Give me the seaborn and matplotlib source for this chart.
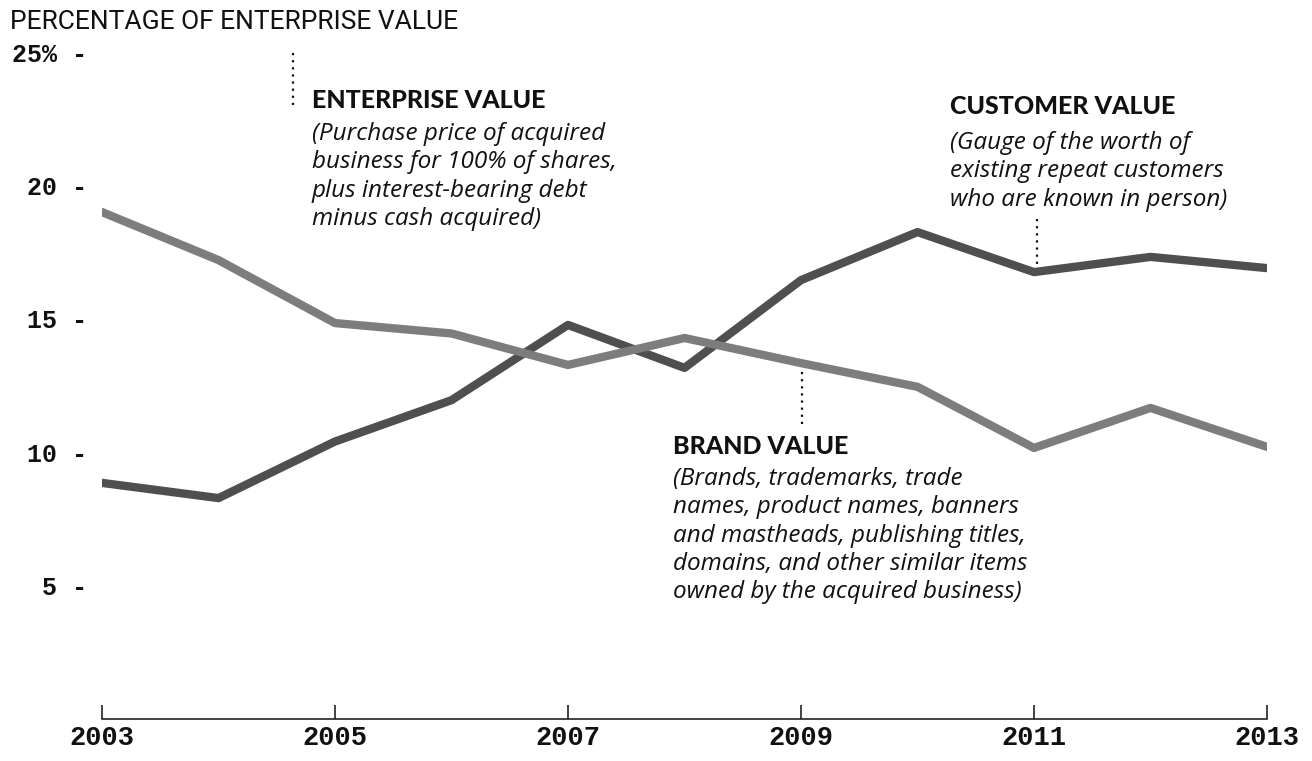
import matplotlib
matplotlib.use("Agg")
import matplotlib.pyplot as plt
import seaborn as sns
import pandas as pd

years = [2003, 2004, 2005, 2006, 2007, 2008, 2009, 2010, 2011, 2012, 2013]
customer_value = [8.85, 8.28, 10.4, 11.95, 14.77, 13.16, 16.45, 18.25, 16.75, 17.32, 16.9]
brand_value = [19.0, 17.2, 14.84, 14.45, 13.27, 14.28, 13.34, 12.45, 10.16, 11.66, 10.2]
y_ticks = [5, 10, 15, 20, 25]
y_tick_labels = ["5 -", "10 -", "15 -", "20 -", "25% -"]
x_ticks = [2003, 2005, 2007, 2009, 2011, 2013]

enterprise_lines = ["(Purchase price of acquired", "business for 100% of shares,",
                    "plus interest-bearing debt", "minus cash acquired)"]
customer_lines = ["(Gauge of the worth of", "existing repeat customers",
                  "who are known in person)"]
brand_lines = ["(Brands, trademarks, trade", "names, product names, banners",
               "and mastheads, publishing titles,", "domains, and other similar items",
               "owned by the acquired business)"]

df = pd.DataFrame({
    "year": years * 2,
    "value": customer_value + brand_value,
    "series": ["Customer value"] * len(years) + ["Brand value"] * len(years),
})

sns.set_theme(style="white")
plt.rcParams["font.family"] = ["DejaVu Sans"]

fig = plt.figure(figsize=(13.12, 7.61), dpi=100)
ax = fig.add_axes([102 / 1312, 1 - 719 / 761, (1267 - 102) / 1312, (719 - 52) / 761])

sns.lineplot(data=df, x="year", y="value", hue="series",
             palette={"Customer value": "#4f4f4f", "Brand value": "#7d7d7d"},
             linewidth=6, legend=False, ax=ax)

ax.set_xlim(2003, 2013)
ax.set_ylim(0, 25)
ax.set_xlabel("")
ax.set_ylabel("")

for s in ["top", "right", "left"]:
    ax.spines[s].set_visible(False)
ax.spines["bottom"].set_color("#222222")
ax.spines["bottom"].set_linewidth(1.2)

ax.set_xticks(x_ticks)
ax.set_xticklabels([str(x) for x in x_ticks], fontfamily="Liberation Mono",
                   fontweight="bold", fontsize=19.5, color="#111111")
ax.tick_params(axis="x", direction="in", length=10, width=1.2, color="#222222", pad=4, bottom=True)

ax.set_yticks(y_ticks)
ax.set_yticklabels(y_tick_labels, fontfamily="Liberation Mono", fontweight="bold",
                   fontsize=18, color="#111111")
ax.tick_params(axis="y", length=0, pad=11)

# Title
fig.text(10 / 1312, 1 - 22 / 761, "PERCENTAGE OF ENTERPRISE VALUE", fontfamily="Roboto",
         fontsize=19, color="#111111", ha="left", va="center")

# Leader lines
dot = dict(linestyle=(0, (1, 2.2)), color="#111111", lw=1.6, clip_on=False)
ax.plot([2004.64, 2004.64], [24.95, 22.9], **dot)
ax.plot([2011.03, 2011.03], [18.75, 17.0], **dot)
ax.plot([2009.01, 2009.01], [13.0, 11.0], **dot)

head_kw = dict(fontfamily="Lato", fontweight="black", fontsize=18, color="#111111",
               ha="left", va="center")
body_kw = dict(fontfamily="Open Sans", style="italic", fontsize=17.5, color="#111111",
               ha="left", va="center")

PX = 26.68      # pixels per data unit (vertical)
STEP = 28.3 / PX


def block(x, head_y, first_y, title, lines):
    ax.text(x, head_y, title, **head_kw)
    for i, line in enumerate(lines):
        ax.text(x, first_y - i * STEP, line, **body_kw)


block(2004.80, (719 - 100) / PX, (719 - 134) / PX, "ENTERPRISE VALUE", enterprise_lines)
block(2010.28, (719 - 107) / PX, (719 - 143) / PX, "CUSTOMER VALUE", customer_lines)
block(2007.90, (719 - 447) / PX, (719 - 479) / PX, "BRAND VALUE", brand_lines)

fig.savefig("out.png", dpi=100, facecolor="white")
